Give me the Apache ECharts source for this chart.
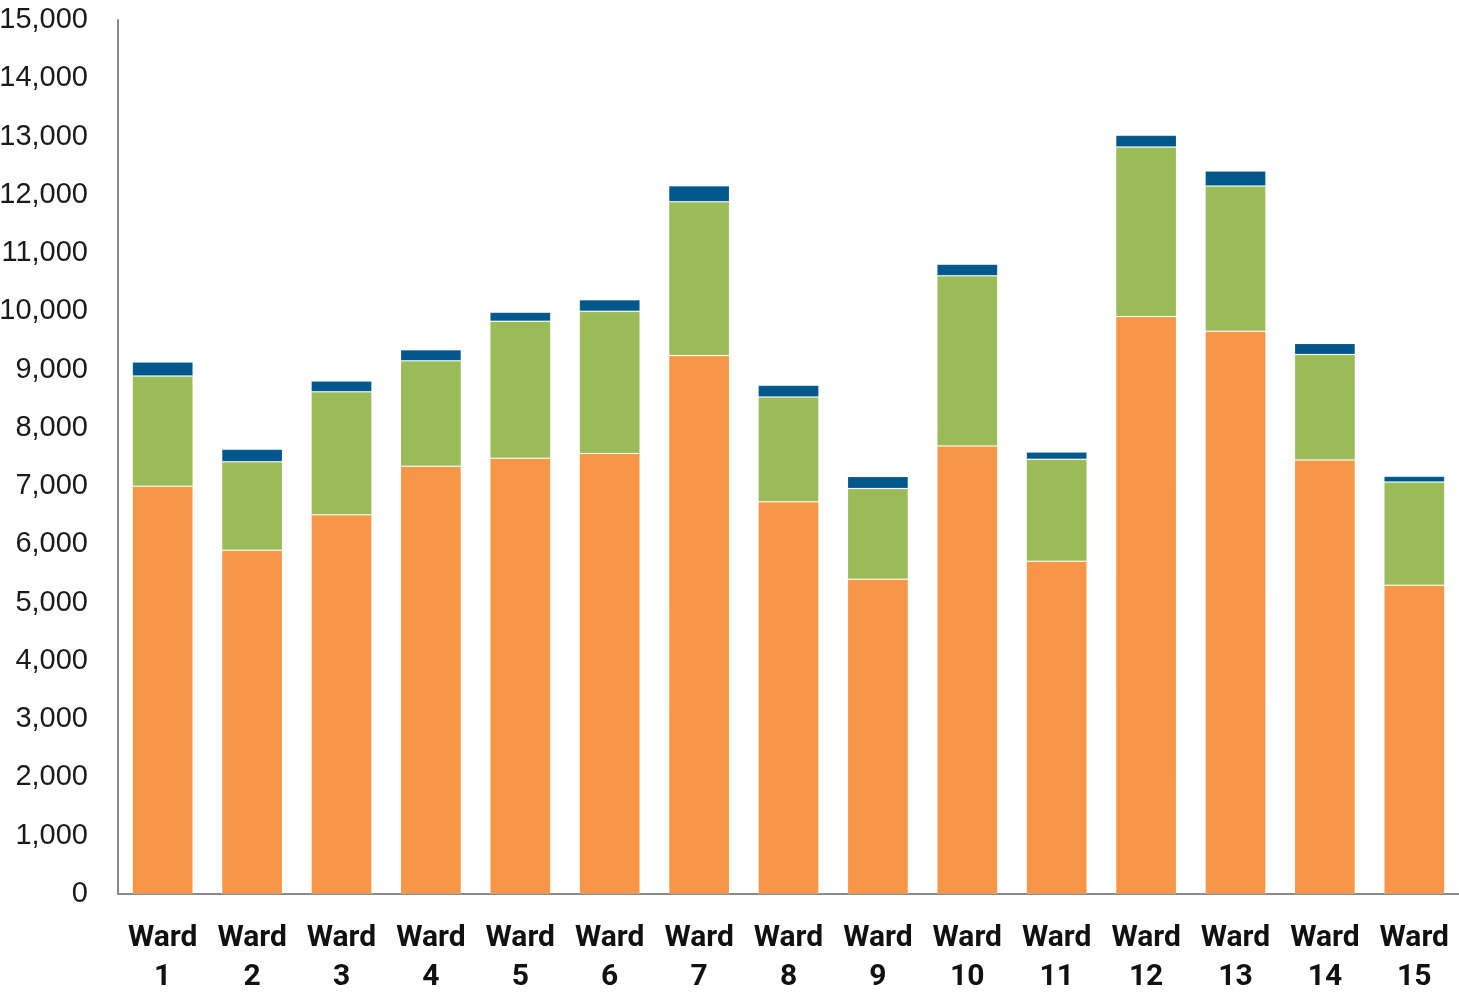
<!DOCTYPE html>
<html>
<head>
<meta charset="utf-8">
<title>Ward totals</title>
<script src="https://cdn.jsdelivr.net/npm/echarts@6/dist/echarts.min.js"></script>
<style>
  html, body { margin: 0; padding: 0; background: #ffffff; }
  #chart { width: 1459px; height: 993px; }
</style>
</head>
<body>
<div id="chart"></div>
<script>
// Wards along the category axis
const wards = ['Ward\n1', 'Ward\n2', 'Ward\n3', 'Ward\n4', 'Ward\n5', 'Ward\n6', 'Ward\n7', 'Ward\n8',
  'Ward\n9', 'Ward\n10', 'Ward\n11', 'Ward\n12', 'Ward\n13', 'Ward\n14', 'Ward\n15'];

// Stacked segments, bottom to top
const baseSegment = [7000, 5900, 6510, 7340, 7480, 7560, 9240, 6730, 5400, 7690, 5710, 9910, 9660, 7450, 5300];
const middleSegment = [1890, 1520, 2110, 1810, 2350, 2440, 2640, 1800, 1560, 2920, 1750, 2910, 2490, 1810, 1770];
const topSegment = [240, 215, 185, 190, 155, 200, 275, 200, 205, 200, 125, 200, 260, 190, 100];

// Value axis range
const yMin = 0;
const yMax = 15000;
const yStep = 1000;

const chart = echarts.init(document.getElementById('chart'));

function segment(name, data, color) {
  return {
    name: name,
    type: 'bar',
    stack: 'total',
    data: data,
    barCategoryGap: '32%',
    itemStyle: {
      color: color,
      borderColor: 'rgba(255,255,255,0.15)',
      borderWidth: 1
    },
    emphasis: { disabled: true }
  };
}

chart.setOption({
  animation: false,
  backgroundColor: '#ffffff',
  grid: { left: 118, right: 0, top: 20, bottom: 99, containLabel: false, outerBoundsMode: 'none' },
  xAxis: {
    type: 'category',
    data: wards,
    axisLine: { show: true, lineStyle: { color: '#8a8a8a', width: 2 } },
    axisTick: { show: false },
    axisLabel: {
      interval: 0,
      margin: 25,
      color: '#111111',
      fontFamily: 'Roboto, "Liberation Sans", sans-serif',
      fontWeight: 'bold',
      fontSize: 30,
      lineHeight: 39
    },
    splitLine: { show: false }
  },
  yAxis: {
    type: 'value',
    min: yMin,
    max: yMax,
    interval: yStep,
    axisLine: { show: true, lineStyle: { color: '#8a8a8a', width: 2 } },
    axisTick: { show: false },
    splitLine: { show: false },
    axisLabel: {
      margin: 30,
      color: '#1a1a1a',
      fontFamily: '"Liberation Sans", Arial, sans-serif',
      fontSize: 29,
      formatter: function (v) { return v.toLocaleString('en-US'); }
    }
  },
  series: [
    segment('Base', baseSegment, '#F79646'),
    segment('Middle', middleSegment, '#9BBB59'),
    segment('Top', topSegment, '#00578B')
  ]
});
</script>
</body>
</html>
